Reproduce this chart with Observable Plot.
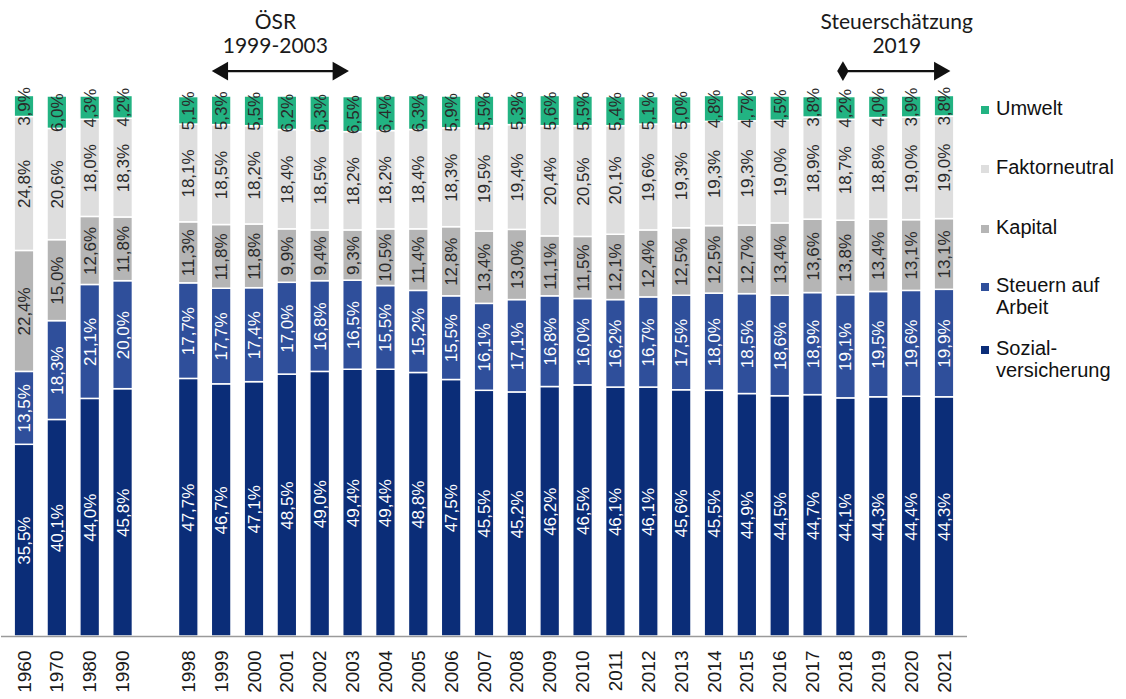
<!DOCTYPE html>
<html>
<head>
<meta charset="utf-8">
<script src="https://cdn.jsdelivr.net/npm/d3@7"></script>
<script src="https://cdn.jsdelivr.net/npm/@observablehq/plot@0.6"></script>
<style>
  html, body { margin: 0; padding: 0; background: #fff; }
  #wrap { position: relative; width: 1126px; height: 699px; overflow: hidden; }
  #legend { position: absolute; left: 981px; top: 0; font-family: "Liberation Sans", Arial, sans-serif; font-size: 20px; color: #111; }
  .li { position: absolute; left: 0; white-space: nowrap; line-height: 22px; }
  .sw { position: absolute; left: 0; top: 9px; width: 8px; height: 8px; }
  .lt { position: absolute; left: 15px; top: 0; }
</style>
</head>
<body>
<div id="wrap"><div id="chart"></div><div id="legend"></div></div>
<script>
const categories = ["1960","1970","1980","1990","gap","1998","1999","2000","2001","2002","2003","2004","2005","2006","2007","2008","2009","2010","2011","2012","2013","2014","2015","2016","2017","2018","2019","2020","2021"];
const years = ["1960","1970","1980","1990","1998","1999","2000","2001","2002","2003","2004","2005","2006","2007","2008","2009","2010","2011","2012","2013","2014","2015","2016","2017","2018","2019","2020","2021"];
const sozial =       [35.5,40.1,44.0,45.8,47.7,46.7,47.1,48.5,49.0,49.4,49.4,48.8,47.5,45.5,45.2,46.2,46.5,46.1,46.1,45.6,45.5,44.9,44.5,44.7,44.1,44.3,44.4,44.3];
const arbeit =       [13.5,18.3,21.1,20.0,17.7,17.7,17.4,17.0,16.8,16.5,15.5,15.2,15.5,16.1,17.1,16.8,16.0,16.2,16.7,17.5,18.0,18.5,18.6,18.9,19.1,19.5,19.6,19.9];
const kapital =      [22.4,15.0,12.6,11.8,11.3,11.8,11.8,9.9,9.4,9.3,10.5,11.4,12.8,13.4,13.0,11.1,11.5,12.1,12.4,12.5,12.5,12.7,13.4,13.6,13.8,13.4,13.1,13.1];
const faktorneutral =[24.8,20.6,18.0,18.3,18.1,18.5,18.2,18.4,18.5,18.2,18.2,18.4,18.3,19.5,19.4,20.4,20.5,20.1,19.6,19.3,19.3,19.3,19.0,18.9,18.7,18.8,19.0,19.0];
const umwelt =       [3.9,6.0,4.3,4.2,5.1,5.3,5.5,6.2,6.3,6.5,6.4,6.3,5.9,5.5,5.3,5.6,5.5,5.4,5.1,5.0,4.8,4.7,4.5,3.8,4.2,4.0,3.9,3.8];

const seriesNames = ["Sozialversicherung","Steuern auf Arbeit","Kapital","Faktorneutral","Umwelt"];
const seriesValues = [sozial, arbeit, kapital, faktorneutral, umwelt];
const seriesColors = ["#0b2d78","#2f4f9b","#b5b5b5","#dedede","#22b382"];
const legendLabels = [["Umwelt"],["Faktorneutral"],["Kapital"],["Steuern auf","Arbeit"],["Sozial-","versicherung"]];
const legendTops = [97, 156, 216, 274, 337];
const darkSeries = ["Sozialversicherung","Steuern auf Arbeit"];

const osrLines = ["ÖSR", "1999-2003"];
const steuerLines = ["Steuerschätzung", "2019"];
const lineY = [113.8, 109.35];
const arrowY = 104.7;
const osrArrow = {x1: "1999", x2: "2003"};
const steuerArrow = {x1: "2018", x2: "2021"};

const data = [];
seriesNames.forEach((s, si) => {
  years.forEach((yr, i) => data.push({year: yr, series: s, value: seriesValues[si][i]}));
});
const fmt = v => v.toFixed(1).replace(".", ",") + "%";

const osrText = osrLines.map((t, i) => ({x: "2001", y: lineY[i], text: t}));
const steuerText = steuerLines.map((t, i) => ({x: "2019", y: lineY[i], text: t}));
const annFont = {fontFamily: "Lato, 'Open Sans', sans-serif", fontSize: 21, fill: "#1a1a1a"};
const arrowStyle = {stroke: "#111", strokeWidth: 2.2};

const chart = Plot.plot({
  width: 1126,
  height: 699,
  marginTop: 96,
  marginBottom: 63,
  marginLeft: 1,
  marginRight: 159,
  style: {fontFamily: "'Liberation Sans', Arial, sans-serif", fontSize: "19px", color: "#1a1a1a", background: "white"},
  x: {type: "band", domain: categories, padding: 0.4, round: false, tickRotate: -90, tickSize: 0, tickPadding: 14, label: null,
      tickFormat: d => d === "gap" ? "" : d},
  y: {domain: [0, 100], axis: null},
  color: {domain: seriesNames, range: seriesColors},
  marks: [
    Plot.barY(data, {x: "year", y: "value", fill: "series", order: seriesNames, stroke: "white", strokeWidth: 1.5}),
    Plot.text(data, Plot.stackY({x: "year", y: "value", z: "series", order: seriesNames,
      text: d => darkSeries.includes(d.series) ? fmt(d.value) : "", rotate: -90, fill: "white", fontSize: 17})),
    Plot.text(data, Plot.stackY({x: "year", y: "value", z: "series", order: seriesNames,
      text: d => darkSeries.includes(d.series) ? "" : fmt(d.value), rotate: -90, fill: "#2a2a2a", fontSize: 17})),
    Plot.ruleY([0], {stroke: "#9a9a9a", strokeWidth: 1.5}),
    Plot.text(osrText, {x: "x", y: "y", text: "text", dx: -12, ...annFont}),
    Plot.text(steuerText, {x: "x", y: "y", text: "text", dx: 18, ...annFont}),
    // ÖSR double arrow
    Plot.link([osrArrow], {x1: "x1", x2: "x2", y1: arrowY, y2: arrowY, dx: -7, ...arrowStyle}),
    Plot.dot([osrArrow], {x: "x1", y: arrowY, dx: 1, symbol: "triangle", rotate: -90, r: 7, fill: "#111"}),
    Plot.dot([osrArrow], {x: "x2", y: arrowY, dx: -15, symbol: "triangle", rotate: 90, r: 7, fill: "#111"}),
    // Steuerschätzung arrow
    Plot.link([steuerArrow], {x1: "x1", x2: "x2", y1: arrowY, y2: arrowY, dx: -3, ...arrowStyle}),
    Plot.dot([steuerArrow], {x: "x1", y: arrowY, dx: -3, symbol: "diamond", r: 6, fill: "#111"}),
    Plot.dot([steuerArrow], {x: "x2", y: arrowY, dx: -5, symbol: "triangle", rotate: 90, r: 7, fill: "#111"})
  ]
});
document.getElementById("chart").appendChild(chart);

const legend = document.getElementById("legend");
seriesNames.slice().reverse().forEach((s, i) => {
  const idx = seriesNames.length - 1 - i;
  const item = document.createElement("div");
  item.className = "li";
  item.style.top = legendTops[i] + "px";
  item.innerHTML = `<div class="sw" style="background:${seriesColors[idx]}"></div><div class="lt">${legendLabels[i].join("<br>")}</div>`;
  legend.appendChild(item);
});
</script>
</body>
</html>
